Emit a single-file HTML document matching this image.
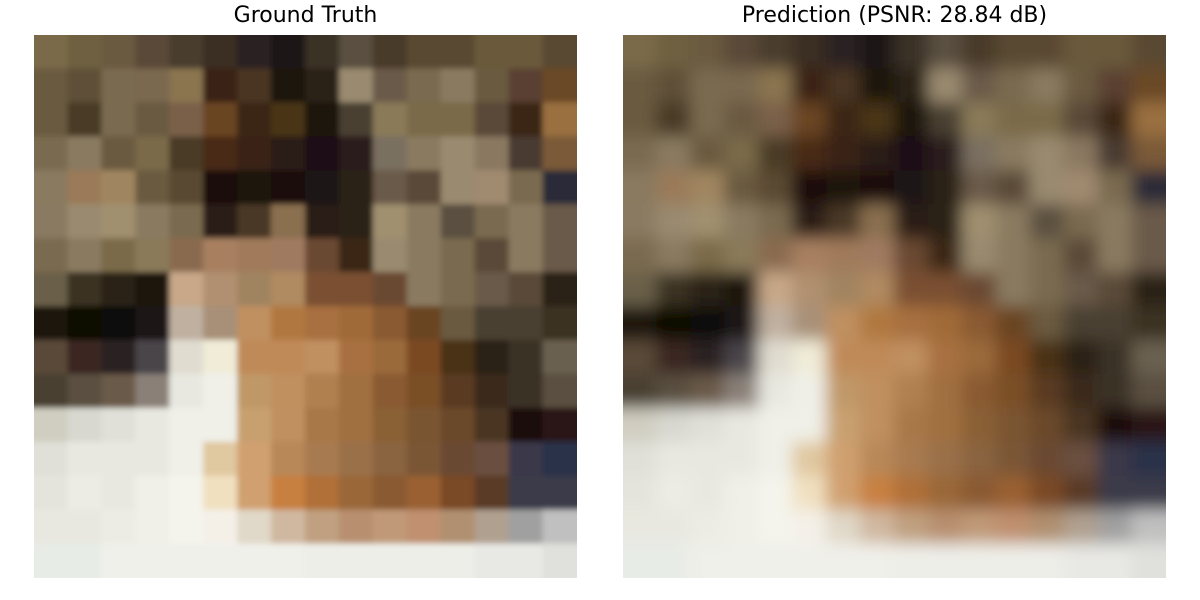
<!DOCTYPE html>
<html><head><meta charset="utf-8">
<style>
body{margin:0;width:1200px;height:600px;background:#fff;position:relative;overflow:hidden;font-family:"DejaVu Sans","Liberation Sans",sans-serif;}
.title{position:absolute;top:2px;font-size:22px;color:#000;text-align:center;width:543px;line-height:28px;}
.img{position:absolute;top:35px;width:543px;height:543px;overflow:hidden;}
.img svg{display:block}
</style></head><body>
<div class="title" style="left:34px">Ground Truth</div>
<div class="title" style="left:623px">Prediction (PSNR: 28.84 dB)</div>
<div class="img" id="gt" style="left:34px"></div>
<div class="img" id="pred" style="left:623px"></div>
<script>
const rows = [
"7a6a48 6e6040 6a5a40 5a4a38 4a3c2e 3a2e24 2a2020 1a1418 3a3028 5a5040 4a3a2a 5a4a32 5a4a30 6a5a3a 6a5a3a 5a4a30",
"6a5a40 5e5038 7a6a50 7a6850 8a7450 3a2418 4a3620 1a1410 2a2018 9a8a70 6a5a48 7a6a50 8a7a60 6a5a40 5a4030 6a4a28",
"6a5a40 4a3a28 7a6a50 6a5a42 7a6048 6a4420 3a2814 4a3418 1a1210 4a4030 8a7a58 7a6a48 7a6a48 5a4a38 3a2618 9a7040",
"7a6a50 8a7a60 6a5a40 7a6a4a 4a3a28 4a2c18 3a2418 2a1a14 1a1014 2a1e1a 7a7060 8a7a60 9a8a70 8a7860 4a3a30 7a5a38",
"8a7a60 9a7a58 a08660 6a5a40 5a4a30 1a100c 1a1210 1a1010 1a1212 2a2218 6a5a48 5a4a38 9a8a70 a08a70 7a6a50 2a2a38",
"8a7a62 9a8a70 a09070 8a7a60 7a6a50 2a1c14 4a3828 8a7050 2a1a14 2a2018 a09070 8a7a60 5a5040 7a6a50 8a7a60 6a5a48",
"7a6a50 8a7a60 7a6a48 8a7a5a 8a6a50 a88060 a07a5a a07a60 6a4a30 3a2818 9a8a70 8a7a60 7a6a50 5a4a38 8a7a60 6a5a48",
"6a6048 3a3020 2a2418 1a1410 c8a888 b09070 a08460 b08a60 7a5030 7a5030 6a4a30 8a7a60 7a6a50 6a5a48 5a4a38 2a2018",
"1a1410 0a0806 0a0808 1a1414 c0b0a0 a89078 c09060 b07840 a87040 a06a38 8a5a30 6a4424 6a5a40 4a4030 4a4030 3a3020",
"5a4a38 3a2820 2a2020 4a4448 e0dcd0 f0ecd8 c08a58 c08a58 c09060 a87040 9a6a3a 7a4a24 4a3018 2a2018 3a3028 6a6050",
"4a4030 5a5040 6a5a48 8a8078 e8e8e0 f0f0e8 c09868 c0905e b08050 a07040 8a5a30 7a5028 5a3a20 3a2a1c 3a3028 5a5040",
"d0cec0 d8d8d0 e0e0d8 e8e8e0 f0f0e8 f0f0e8 c8a070 c09060 a87848 a07040 8a6034 7a5430 6a4a2a 4a3422 1a1010 2a1814",
"e0e0d8 e8e8e0 e8e8e0 e8e8e0 f0f0e8 e0c8a0 d0a070 b88858 a87a50 9a7048 8a6440 7a5636 6a4a30 6a5040 3a3848 2a3048",
"e4e4dc ecece4 e8e8e0 f0f0e8 f4f4ec f0e0c0 d0a070 c88040 b07038 9a6838 8a5a30 9a6030 7a4a28 5a3a28 3a3a4a 3a3a4a",
"e8e8e0 e8e8e0 ecece4 f0f0e8 f4f4ec f4f0e8 e0d8c8 d0b8a0 c0a080 b89070 c09a78 c09070 b09070 b0a090 a0a0a0 c0c0c0",
"e8ece6 e8ece6 f0f0ea f0f0ea f0f0ea f0f0ea f0f0ea f0f0ea eeeee8 eeeee8 eeeee8 eeeee8 eeeee8 e8e8e4 e8e8e4 e0e0dc"
];
function build(id, blur){
  const n=16, s=543/n, pad=40;
  let out='<svg width="543" height="543" xmlns="http://www.w3.org/2000/svg"><defs><filter id="f'+id+'" filterUnits="userSpaceOnUse" x="-60" y="-60" width="663" height="663"><feGaussianBlur stdDeviation="'+blur+'"/></filter></defs><g filter="url(#f'+id+')">';
  const grid=rows.map(r=>r.split(' '));
  grid.forEach((r,y)=>r.forEach((c,x)=>{
    let x0=x*s-0.5, y0=y*s-0.5, w=s+1, h=s+1;
    if(x===0){x0-=pad;w+=pad;} if(x===n-1){w+=pad;}
    if(y===0){y0-=pad;h+=pad;} if(y===n-1){h+=pad;}
    out+='<rect x="'+x0+'" y="'+y0+'" width="'+w+'" height="'+h+'" fill="#'+c+'"/>';
  }));
  out+='</g></svg>';
  document.getElementById(id).innerHTML=out;
}
build('gt',3);
build('pred',8);
</script>
</body></html>
